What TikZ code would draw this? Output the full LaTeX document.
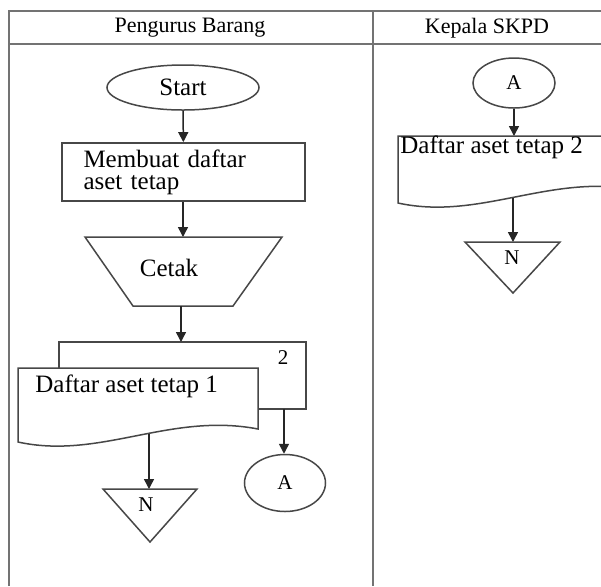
\documentclass[tikz,border=0pt]{standalone}
\usepackage{fontspec}
\setmainfont{Liberation Serif}
\usetikzlibrary{arrows.meta,shapes.geometric}
\begin{document}
\begin{tikzpicture}[x=0.5pt,y=-0.5pt,
  lane/.style={draw=black!55,line width=1.1pt},
  outline/.style={draw=black!72,line width=0.75pt,fill=white},
  flow/.style={draw=black!85,line width=0.75pt,-{Triangle[length=5pt,width=5pt]}},
  headtext/.style={font=\fontsize{11}{12}\selectfont},
  bodytext/.style={font=\fontsize{12.5}{11}\selectfont},
  marktext/.style={font=\fontsize{10.5}{12}\selectfont},
]
\useasboundingbox[fill=white] (0,0) rectangle (601,586);
\clip (0,0) rectangle (601,586);

% swimlane frame
\draw[lane] (9,586) -- (9,11) -- (601,11);
\draw[lane] (9,44) -- (601,44);
\draw[lane] (373,11) -- (373,586);
\node[headtext] (h1) at (190,28) {Pengurus Barang};
\node[headtext] (h2) at (487,28) {Kepala SKPD};

% ---- Pengurus Barang ----
\node[outline,ellipse,minimum width=76pt,minimum height=22.5pt,inner sep=0pt,bodytext] (start) at (183,87.5) {Start};

\node[outline,rectangle,minimum width=121.5pt,minimum height=28pt,
      text width=100pt,inner xsep=10.75pt,align=left,bodytext] (buat) at (183.5,172) {Membuat daftar\\aset tetap};

% manual operation (print)
\draw[outline] (85,237) -- (282,237) -- (233,306) -- (133,306) -- cycle;
\coordinate (ctop) at (183,237);
\coordinate (cbot) at (181,306);
\node[bodytext] (cetak) at (169,268) {Cetak};

% two-copy document
\draw[outline] (59,342) rectangle (306,409);
\node[marktext] (c2) at (283,358) {2};
\coordinate (d2top) at (181,342);
\coordinate (d2bot) at (284,409);
\draw[outline] (18,368) -- (258,368) -- (258,429)
  .. controls (170,412) and (100,460) .. (18,442) -- cycle;
\node[bodytext,anchor=west,inner sep=0pt] (d1) at (35,386) {Daftar aset tetap 1};
\coordinate (d1bot) at (149,434);

\node[outline,ellipse,minimum width=40.5pt,minimum height=28.5pt,inner sep=0pt,marktext] (ca) at (285,483) {A};

% off-page end
\draw[outline] (103,489) -- (197,489) -- (150,542) -- cycle;
\coordinate (n1top) at (149,489);
\node[marktext] (n1) at (146,505) {N};

\draw[flow] (start) -- (buat);
\draw[flow] (buat.south -| ctop) -- (ctop);
\draw[flow] (cbot) -- (d2top);
\draw[flow] (d2bot) -- (ca.north -| d2bot);
\draw[flow] (d1bot) -- (n1top);

% ---- Kepala SKPD ----
\node[outline,ellipse,minimum width=41pt,minimum height=25pt,inner sep=0pt,marktext] (cb) at (514,83) {A};

\draw[outline] (398,136) -- (638,136) -- (638,190)
  .. controls (550,173) and (480,221) .. (398,203) -- cycle;
\node[bodytext,anchor=west,inner sep=0pt] (d3) at (400,147) {Daftar aset tetap 2};
\coordinate (d3top) at (514,136);
\coordinate (d3bot) at (513,198);

\draw[outline] (465,242) -- (560,242) -- (513,293) -- cycle;
\coordinate (n2top) at (513,242);
\node[marktext] (n2) at (512,258) {N};

\draw[flow] (cb) -- (d3top);
\draw[flow] (d3bot) -- (n2top);
\end{tikzpicture}
\end{document}
